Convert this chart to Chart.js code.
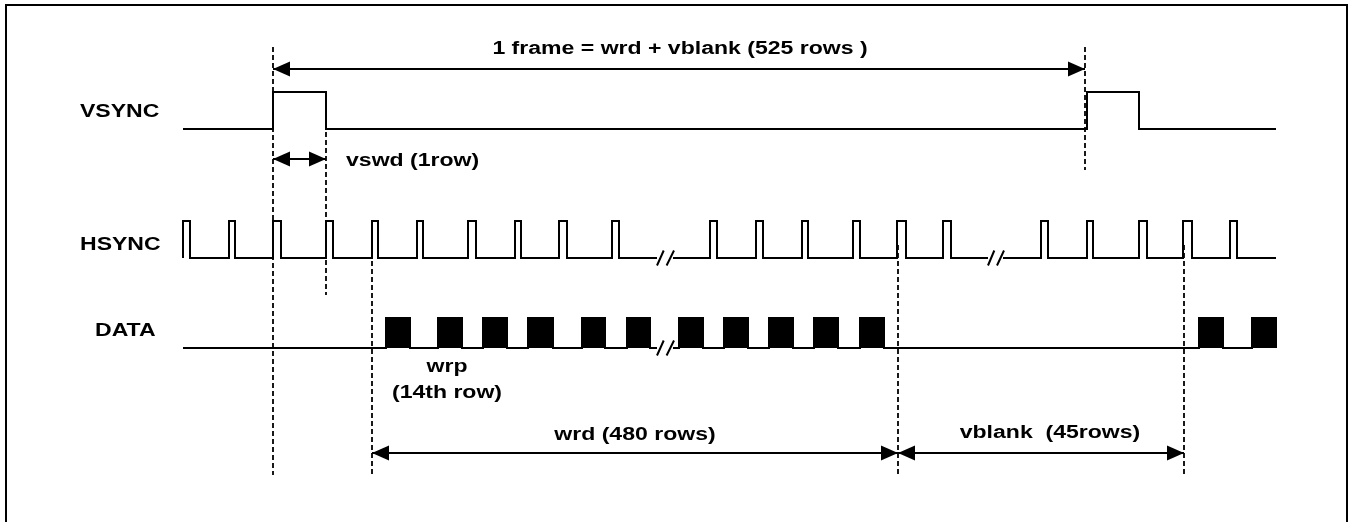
<!DOCTYPE html>
<html>
<head>
<meta charset="utf-8">
<script src="https://cdn.jsdelivr.net/npm/chart.js@4/dist/chart.umd.min.js"></script>
<style>
  html, body { margin: 0; padding: 0; background: #fff; }
  canvas { display: block; }
</style>
</head>
<body>
<canvas id="timing" width="1348" height="522"></canvas>
<script>
// Signal names and timing (time in diagram units along x)
const signals = ['VSYNC', 'HSYNC', 'DATA'];
const traceSpan = [183, 1276];

// [rise, fall] of each pulse
const vsyncPulses = [[273, 326], [1087, 1139]];
const hsyncPulses = [[183, 190], [229, 235], [273, 281], [326, 333], [372, 378], [417, 423],
  [468, 476], [515, 521], [559, 567], [612, 619], [710, 717], [756, 763], [802, 808],
  [853, 860], [897, 906], [943, 951], [1041, 1048], [1087, 1093], [1139, 1147],
  [1183, 1192], [1230, 1237]];
const dataPulses = [[386, 410], [438, 462], [483, 507], [528, 553], [582, 605], [627, 650],
  [679, 703], [724, 748], [769, 793], [814, 838], [860, 884], [1199, 1223], [1252, 1276]];

// time breaks ("//") in each trace
const hsyncBreaks = [[657, 673], [988, 1003]];
const dataBreaks = [[657, 673]];

// dashed reference lines: time, from level, to level
const markerTimes = [273, 326, 372, 898, 1085, 1184];
const markerTop = [47, 92, 245, 245, 47, 245];
const markerBottom = [475, 295, 475, 475, 170, 475];

// dimension arrows: [from, to]
const spanLabels = ['1 frame = wrd + vblank (525 rows )', 'vswd (1row)', 'wrd (480 rows)', 'vblank  (45rows)'];
const spanRanges = [[273, 1085], [273, 326], [372, 898], [898, 1184]];

// vertical layout of tracks (y axis runs top to bottom)
const levels = { VSYNC: [129, 92], HSYNC: [258, 221], DATA: [348, 318] };
const arrowLevels = [69, 159, 453, 453];

// split a trace at its breaks, each piece becomes its own polyline
function buildSegments(pulses, gaps, low, high) {
  const bounds = [traceSpan[0]];
  gaps.forEach(g => bounds.push(g[0], g[1]));
  bounds.push(traceSpan[1]);
  const segments = [];
  for (let i = 0; i < bounds.length; i += 2) {
    const a = bounds[i], b = bounds[i + 1];
    const pts = [{ x: a, y: low }];
    pulses.filter(p => p[0] >= a && p[1] <= b).forEach(p => {
      pts.push({ x: p[0], y: low }, { x: p[0], y: high }, { x: p[1], y: high }, { x: p[1], y: low });
    });
    pts.push({ x: b, y: low });
    segments.push(pts);
  }
  return segments;
}

function buildBreakMarks(gaps, mid) {
  const pts = [];
  gaps.forEach(g => {
    const w = g[1] - g[0];
    pts.push({ x: g[0], y: mid + 7.5 }, { x: g[0] + w * 0.42, y: mid - 7.5 }, { x: g[0] + w * 0.5, y: null });
    pts.push({ x: g[0] + w * 0.6, y: mid + 7.5 }, { x: g[1] + 1, y: mid - 7.5 }, { x: g[1] + 2, y: null });
  });
  return pts;
}

function buildMarkers() {
  const pts = [];
  markerTimes.forEach((t, i) => {
    pts.push({ x: t, y: markerTop[i] }, { x: t, y: markerBottom[i] }, { x: t + 0.5, y: null });
  });
  return pts;
}

function buildSpans() {
  const pts = [];
  spanRanges.forEach((r, i) => {
    pts.push({ x: r[0], y: arrowLevels[i] }, { x: r[1], y: arrowLevels[i] }, { x: r[1] + 0.5, y: null });
  });
  return pts;
}

const lineStyle = {
  borderColor: '#000',
  borderWidth: 2,
  pointRadius: 0,
  tension: 0,
  fill: false,
  spanGaps: false
};

// Arrowheads on the dimension lines
const arrowHeads = {
  id: 'arrowHeads',
  afterDatasetsDraw(chart) {
    const { ctx, scales: { x, y } } = chart;
    ctx.save();
    ctx.fillStyle = '#000';
    spanRanges.forEach((r, i) => {
      const py = y.getPixelForValue(arrowLevels[i]);
      [[r[0], 1], [r[1], -1]].forEach(([t, dir]) => {
        const px = x.getPixelForValue(t);
        ctx.beginPath();
        ctx.moveTo(px, py);
        ctx.lineTo(px + dir * 17, py - 7.5);
        ctx.lineTo(px + dir * 17, py + 7.5);
        ctx.closePath();
        ctx.fill();
      });
    });
    ctx.restore();
  }
};

// Labels: signal names and dimension notes
const labelItems = [
  { text: signals[0], t: 80, y: 116.5, align: 'left' },
  { text: signals[1], t: 80, y: 249.5, align: 'left' },
  { text: signals[2], t: 95, y: 335.5, align: 'left' },
  { text: spanLabels[0], t: 680, y: 54, align: 'center' },
  { text: spanLabels[1], t: 346, y: 166, align: 'left' },
  { text: 'wrp', t: 447, y: 372, align: 'center' },
  { text: '(14th row)', t: 447, y: 398, align: 'center' },
  { text: spanLabels[2], t: 635, y: 440, align: 'center' },
  { text: spanLabels[3], t: 1050, y: 438, align: 'center' }
];

const textLabels = {
  id: 'textLabels',
  afterDraw(chart) {
    const { ctx, scales: { x, y } } = chart;
    ctx.save();
    ctx.fillStyle = '#000';
    ctx.font = 'bold 18px "Liberation Sans", Arial, sans-serif';
    ctx.textBaseline = 'alphabetic';
    labelItems.forEach(item => {
      const px = x.getPixelForValue(item.t);
      const py = y.getPixelForValue(item.y);
      ctx.save();
      ctx.translate(px, py);
      ctx.scale(1.28, 1); // the source diagram is stretched horizontally
      ctx.textAlign = item.align;
      ctx.fillText(item.text, 0, 0);
      ctx.restore();
    });
    ctx.restore();
  }
};

// Outer frame
const frame = {
  id: 'frame',
  beforeDraw(chart) {
    const { ctx } = chart;
    ctx.save();
    ctx.fillStyle = '#fff';
    ctx.fillRect(0, 0, chart.width, chart.height);
    ctx.strokeStyle = '#000';
    ctx.lineWidth = 2;
    ctx.strokeRect(6, 5, 1341, 530);
    ctx.restore();
  }
};

const datasets = [];
buildSegments(vsyncPulses, [], levels.VSYNC[0], levels.VSYNC[1]).forEach(seg => {
  datasets.push(Object.assign({ label: 'VSYNC', data: seg }, lineStyle));
});
buildSegments(hsyncPulses, hsyncBreaks, levels.HSYNC[0], levels.HSYNC[1]).forEach(seg => {
  datasets.push(Object.assign({ label: 'HSYNC', data: seg }, lineStyle));
});
buildSegments(dataPulses, dataBreaks, levels.DATA[0], levels.DATA[1]).forEach(seg => {
  datasets.push(Object.assign({}, lineStyle, {
    label: 'DATA',
    data: seg,
    fill: { value: levels.DATA[0] },
    backgroundColor: '#000'
  }));
});
datasets.push(Object.assign({ label: 'breaks', data: buildBreakMarks(hsyncBreaks, levels.HSYNC[0]).concat(buildBreakMarks(dataBreaks, levels.DATA[0])) }, lineStyle));
datasets.push(Object.assign({}, lineStyle, { label: 'markers', data: buildMarkers(), borderWidth: 1.8, borderDash: [5, 3] }));
datasets.push(Object.assign({ label: 'spans', data: buildSpans() }, lineStyle));

new Chart(document.getElementById('timing'), {
  type: 'line',
  data: { datasets: datasets },
  options: {
    responsive: false,
    animation: false,
    devicePixelRatio: 1,
    layout: { padding: 0 },
    plugins: {
      legend: { display: false },
      tooltip: { enabled: false }
    },
    scales: {
      x: { type: 'linear', min: 0, max: 1348, display: false },
      y: { type: 'linear', min: 0, max: 522, reverse: true, display: false }
    }
  },
  plugins: [frame, arrowHeads, textLabels]
});
</script>
</body>
</html>
